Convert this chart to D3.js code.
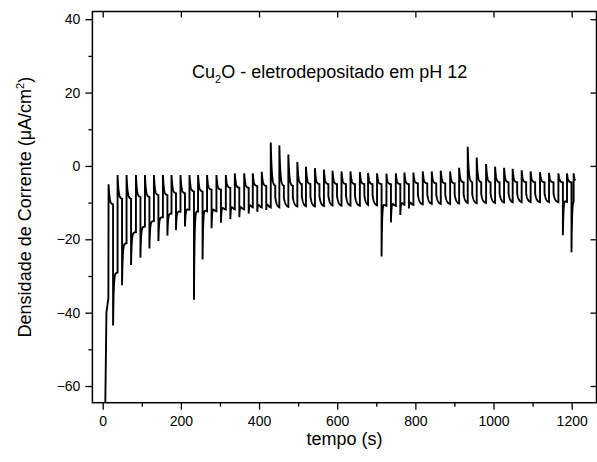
<!DOCTYPE html>
<html>
<head>
<meta charset="utf-8">
<script src="https://cdn.jsdelivr.net/npm/d3@7"></script>
<style>
  html, body { margin: 0; padding: 0; background: #fff; }
  svg { display: block; }
  text { font-family: "Liberation Sans", Arial, sans-serif; fill: #000; }
</style>
</head>
<body>
<svg id="chart" width="597" height="462"></svg>
<script>
// Chopped-light chronoamperometry of electrodeposited Cu2O (pH 12)
// Each cycle k: light off at stemTimes[k] -> current jumps to peakValues[k] and relaxes to darkValues[k];
// light on darkDuration s later -> current drops to troughValues[k], recovers to settleValues[k]
// and drifts to lightValues[k] just before the next light-off.
const stemTimes = [15, 38, 61, 85, 108, 131, 154, 176, 199, 222, 244, 267, 291, 315, 338, 362, 384, 407,
  430, 452, 475, 498, 520, 543, 566, 588, 611, 634, 658, 679, 702, 726, 750, 772, 795, 819, 842, 865,
  889, 912, 934, 957, 981, 1004, 1027, 1049, 1072, 1095, 1119, 1142, 1166, 1188, 1205];
const peakValues = [-5, -2.5, -2.5, -2.5, -2.5, -2.5, -2.5, -2.5, -2.5, -2.5, -2.5, -2.5, -2.5, -2.5, -2, -2, -2, -1.6,
  6.4, 5.6, 3.1, 1.1, -0.2, -0.6, -1, -1.3, -1.5, -1.5, -1.7, -1.9, -2, -2.1, -2, -1.8, -1.8, -1.5, -1.5, -1.3,
  -1.5, -0.5, 5.2, 2.3, 0.5, -0.2, -0.5, -0.8, -1.2, -1.5, -1.7, -1.9, -2, -2, -2];
const darkValues = [-10.5, -9, -9, -8.5, -8.5, -8, -8, -7.5, -7.5, -7, -7, -6.5, -6.5, -6, -6, -6, -5.5, -5.5,
  -5.5, -5.5, -5.5, -5, -5, -5, -5, -5, -5, -5, -5, -5, -5, -5, -5, -5, -4.8, -4.8, -4.8, -4.8,
  -4.8, -4.5, -4.5, -4.5, -4.5, -4.5, -4.5, -4.5, -4.5, -4.5, -4.5, -4.5, -4.5, -4.5, -4.5];
const troughValues = [-43.5, -32.5, -27, -25, -22.5, -20.5, -19, -17.5, -16.5, -36.5, -25.5, -17, -15.5, -14.5, -14, -13, -12.5, -12,
  -8.5, -8.5, -8.5, -8.3, -8.3, -8.2, -8.2, -8.2, -8.1, -8.1, -8, -8, -24.7, -15.4, -13.4, -11.6, -7.8, -7.8, -7.8, -7.8,
  -7.7, -7.7, -7.6, -7.6, -7.6, -7.5, -7.5, -7.5, -7.5, -7.5, -7.4, -7.4, -18.9, -23.5, -7.5];
const settleValues = [-30, -22, -19, -17, -15.5, -14, -13, -12, -11, -11, -10, -9.5, -9.5, -9, -9, -8.5, -8.5, -8.5,
  -8.5, -8.5, -8.5, -8.3, -8.3, -8.2, -8.2, -8.2, -8.1, -8.1, -8, -8, -8, -8, -8, -8, -7.8, -7.8, -7.8, -7.8,
  -7.7, -7.7, -7.6, -7.6, -7.6, -7.5, -7.5, -7.5, -7.5, -7.5, -7.4, -7.4, -7.5, -7.5, -7.5];
const lightValues = [-29, -21, -18, -16.5, -15, -14, -13, -12.5, -12, -12.5, -12.5, -12.5, -12, -12, -12, -11.5, -11.5, -11.5,
  -11.5, -11.3, -11.2, -11.2, -11.2, -11.1, -11, -11, -11, -11, -10.9, -10.9, -11, -11, -10.8, -10.8, -10.6, -10.5, -10.5, -10.5,
  -10.4, -10.3, -10.3, -10.2, -10.2, -10.1, -10.1, -10, -10, -10, -10, -10, -10, -10, -10];
// initial transient before the first light-off
const leadIn = [[6, -70], [9.5, -40], [14.5, -36]];
const darkDuration = 11.5;
const endTime = 1209;

const xTicks = [0, 200, 400, 600, 800, 1000, 1200];
const xMinorTicks = [100, 300, 500, 700, 900, 1100];
const yTicks = [-60, -40, -20, 0, 20, 40];
const yMinorTicks = [-50, -30, -10, 10, 30];

const svg = d3.select("#chart");
const plotL = 92.4, plotR = 596.5, plotT = 11.5, plotB = 402.7;

const x = d3.scaleLinear().domain([-26.4, 1263.5]).range([plotL, plotR]);
const y = d3.scaleLinear().domain([-64.55, 42.1]).range([plotB, plotT]);

// build the current trace
const pts = leadIn.map(d => d.slice());
const tauDark = 2.5, tauFast = 1.5, tauSlow = 4;
const lightCurve = (k, dt) => {
  const T = troughValues[k], S = settleValues[k], L = lightValues[k];
  return S + (T - S) * Math.exp(-dt / tauFast) + (L - S) * (1 - Math.exp(-dt / tauSlow));
};
for (let k = 0; k < stemTimes.length; k++) {
  const s = stemTimes[k];
  const P = peakValues[k], D = darkValues[k];
  const next = k + 1 < stemTimes.length ? stemTimes[k + 1] : endTime;
  const leg = Math.min(s + darkDuration, next);
  pts.push([s, P]);
  for (let t = s + 0.4; t < leg; t += 0.4) pts.push([t, D + (P - D) * Math.exp(-(t - s) / tauDark)]);
  pts.push([leg, D + (P - D) * Math.exp(-(leg - s) / tauDark)]);
  if (leg < next) {
    pts.push([leg, troughValues[k]]);
    for (let t = leg + 0.4; t < next; t += 0.4) pts.push([t, lightCurve(k, t - leg)]);
    pts.push([next, lightCurve(k, next - leg)]);
  }
}

svg.append("defs").append("clipPath").attr("id", "plotClip")
  .append("rect").attr("x", plotL).attr("y", plotT).attr("width", plotR - plotL).attr("height", plotB - plotT);

svg.append("path")
  .datum(pts)
  .attr("clip-path", "url(#plotClip)")
  .attr("fill", "none")
  .attr("stroke", "#000")
  .attr("stroke-width", 1.9)
  .attr("stroke-linejoin", "miter")
  .attr("d", d3.line().x(d => x(d[0])).y(d => y(d[1])));

// axes
function styleAxis(g) {
  g.select(".domain").remove();
  g.selectAll(".tick line").attr("stroke", "#000").attr("stroke-width", 1.3);
  g.selectAll(".tick text").attr("font-size", 14).attr("font-family", "Liberation Sans, Arial, sans-serif");
}

svg.append("g").attr("transform", `translate(0,${plotB})`)
  .call(d3.axisBottom(x).tickValues(xTicks).tickSize(7).tickPadding(6).tickFormat(d3.format("d")))
  .call(styleAxis);
svg.append("g").attr("transform", `translate(0,${plotB})`)
  .call(d3.axisBottom(x).tickValues(xMinorTicks).tickSize(4).tickFormat(""))
  .call(styleAxis);
svg.append("g").attr("transform", `translate(${plotL},0)`)
  .call(d3.axisLeft(y).tickValues(yTicks).tickSize(7).tickPadding(5).tickFormat(d3.format("d")))
  .call(styleAxis);
svg.append("g").attr("transform", `translate(${plotL},0)`)
  .call(d3.axisLeft(y).tickValues(yMinorTicks).tickSize(4).tickFormat(""))
  .call(styleAxis);
// mirrored inward ticks on top and right
svg.append("g").attr("transform", `translate(0,${plotT})`)
  .call(d3.axisBottom(x).tickValues(xTicks).tickSize(6).tickFormat(""))
  .call(styleAxis);
svg.append("g").attr("transform", `translate(${plotR},0)`)
  .call(d3.axisLeft(y).tickValues(yTicks).tickSize(6).tickFormat(""))
  .call(styleAxis);

svg.append("rect")
  .attr("x", plotL).attr("y", plotT).attr("width", plotR - plotL).attr("height", plotB - plotT)
  .attr("fill", "none").attr("stroke", "#000").attr("stroke-width", 1.5);

// axis titles
svg.append("text")
  .attr("x", (plotL + plotR) / 2).attr("y", 445)
  .attr("text-anchor", "middle").attr("font-size", 18)
  .text("tempo (s)");

const yt = svg.append("text")
  .attr("transform", `translate(31,${(plotT + plotB) / 2}) rotate(-90)`)
  .attr("text-anchor", "middle").attr("font-size", 18);
yt.append("tspan").text("Densidade de Corrente (\u03BCA/cm");
yt.append("tspan").attr("font-size", 11).attr("dy", -7).text("2");
yt.append("tspan").attr("dy", 7).text(")");

// annotation
const ann = svg.append("text").attr("x", 192).attr("y", 78).attr("font-size", 18);
ann.append("tspan").text("Cu");
ann.append("tspan").attr("font-size", 11).attr("dy", 5).text("2");
ann.append("tspan").attr("dy", -5).text("O - eletrodepositado em pH 12");
</script>
</body>
</html>
